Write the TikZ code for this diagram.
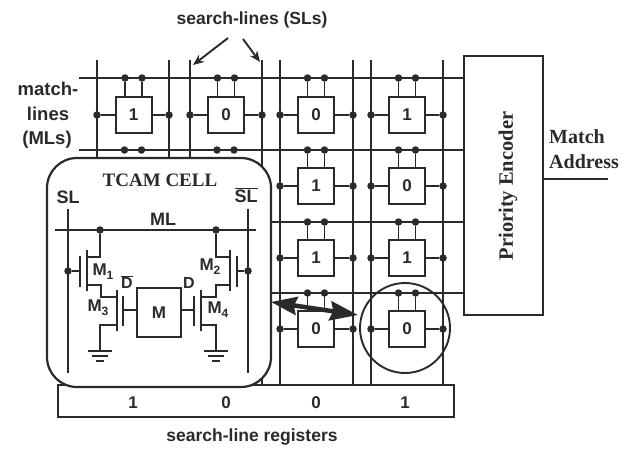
\documentclass[tikz,border=0pt]{standalone}
\usepackage{fontspec}
\setmainfont{Liberation Sans}
\newfontfamily\serifb{Liberation Serif}[BoldFont={Liberation Serif Bold}]
\usetikzlibrary{arrows.meta,calc}
\definecolor{ink}{HTML}{2A2A2A}
\newcommand{\Msub}[1]{M\raisebox{-4pt}{\fontsize{12}{12}\selectfont #1}}
\newcommand{\sansb}[1]{\fontsize{#1}{#1}\selectfont\bfseries}
\newcommand{\serb}[1]{\fontsize{#1}{#1}\selectfont\serifb\bfseries}
\tikzset{
  wire/.style={draw=ink,line width=1.9pt},
  bar/.style={draw=ink,line width=2.2pt},
  cellbox/.style={draw=ink,line width=2pt,fill=white,minimum width=36pt,minimum height=36pt,inner sep=0pt,font=\sansb{17},text=ink},
  junction/.style={circle,fill=ink,draw=none,minimum size=7.5pt,inner sep=0pt},
  lab/.style={text=ink,font=\sansb{17},inner sep=0pt,align=center},
  tlab/.style={text=ink,font=\sansb{18},inner sep=0pt},
  ser/.style={text=ink,inner sep=0pt,align=left},
  pointer/.style={draw=ink,line width=1.9pt,-{Stealth[length=11pt,width=9pt]}},
}
\begin{document}
\begin{tikzpicture}[x=1pt,y=-1pt]
\useasboundingbox[fill=white] (0,0) rectangle (636,448);
% match lines
\foreach \n/\y in {a/78,b/150,c/222,d/293}{
  \coordinate (ml\n L) at (79,\y);
  \coordinate (ml\n R) at (464,\y);
  \draw[bar] (ml\n L) -- (ml\n R);
}
% search lines
\foreach \n/\x in {1/97,2/169,3/190,4/262,5/280,6/353,7/371,8/443}{
  \coordinate (sl\n T) at (\x,60);
  \coordinate (sl\n B) at (\x,386);
  \draw[wire] (sl\n T) -- (sl\n B);
}
% cells
\foreach \nm/\cx/\cy/\v/\l/\r/\yt in {
  aa/133.5/115/1/97/169/78, ab/226/115/0/190/262/78, ac/316/115/0/280/353/78, ad/407/115/1/371/443/78,
  bc/316/186/1/280/353/150, bd/407/186/0/371/443/150,
  cc/316/258/1/280/353/222, cd/407/258/1/371/443/222,
  dc/316/329/0/280/353/293, dd/407/329/0/371/443/293}{
  \node[cellbox] (cell\nm) at (\cx,\cy) {\v};
  \node[junction] (\nm L) at (\l,\cy) {};
  \node[junction] (\nm R) at (\r,\cy) {};
  \node[junction] (\nm P) at (\cx-8.5,\yt) {};
  \node[junction] (\nm Q) at (\cx+8.5,\yt) {};
  \draw[wire] (\nm L) -- (cell\nm);
  \draw[wire] (\nm R) -- (cell\nm);
  \draw[wire] (\nm P) -- (\nm P |- cell\nm.north);
  \draw[wire] (\nm Q) -- (\nm Q |- cell\nm.north);
}
% dots of the covered row
\foreach \nm/\x in {ba/124.5,bb/141.5,bc/217,bd/234}{
  \node[junction] (\nm T) at (\x,150) {};
}
% priority encoder
\node[draw=ink,line width=2.4pt,fill=white,minimum width=79pt,minimum height=259pt,inner sep=0pt] (pe) at (503.5,185.5) {};
\node[ser,rotate=90,font=\serb{20.5}] (pet) at (508,186) {Priority Encoder};
\coordinate (mout) at (608,179);
\draw[line width=2.4pt,draw=ink] (pe.east |- mout) -- (mout);
\node[ser,anchor=west,font=\serb{20}] (ma1) at (549,137) {Match};
\node[ser,anchor=west,font=\serb{20}] (ma2) at (549,162) {Address};
% labels
\node[lab,font=\sansb{17.5}] (sltitle) at (252,20) {search-lines (SLs)};
\node[lab,font=\sansb{18.5}] (ml1) at (48,89) {match-};
\node[lab,font=\sansb{18.5}] (ml2) at (48,114) {lines};
\node[lab,font=\sansb{18.5}] (ml3) at (47,140) {(MLs)};
\coordinate (p1s) at (228,38);
\coordinate (p1e) at (193,65);
\coordinate (p2s) at (243,39);
\coordinate (p2e) at (260,62);
\draw[pointer] (p1s) -- (p1e);
\draw[pointer] (p2s) -- (p2e);
% register
\node[draw=ink,line width=2.2pt,fill=white,minimum width=396pt,minimum height=32pt,inner sep=0pt] (reg) at (256,401) {};
\foreach \nm/\x/\v in {r1/133/1,r2/226/0,r3/316/0,r4/405/1}{
  \node[lab,font=\sansb{17}] (\nm) at (\x,403) {\v};
}
\node[lab,font=\sansb{17.5}] (regt) at (252,437) {search-line registers};
% circle on the cell
\node[draw=ink,line width=1.9pt,circle,minimum size=90pt,inner sep=0pt] (ring) at (405,328) {};
% TCAM cell panel
\node[draw=ink,line width=2.2pt,fill=white,rounded corners=30pt,minimum width=224pt,minimum height=229pt,inner sep=0pt] (panel) at (159,272.5) {};
\node[ser,font=\serb{19}] (tc) at (160,180) {TCAM CELL};
\node[tlab] (sl) at (68,197) {SL};
\node[tlab] (slb) at (246,195) {$\overline{\hbox{SL}}$};
\node[tlab] (mlt) at (163,219) {ML};
% cell wires
\coordinate (slL1) at (68,209); \coordinate (slL2) at (68,373);
\coordinate (slR1) at (248,209); \coordinate (slR2) at (248,373);
\coordinate (mlA) at (55,230); \coordinate (mlB) at (256,230);
\draw[wire] (slL1) -- (slL2);
\draw[wire] (slR1) -- (slR2);
\draw[wire] (mlA) -- (mlB);
\node[junction] (dm1) at (100,230) {};
\node[junction] (dm2) at (216,230) {};
\node[junction] (gm1) at (68,271) {};
\node[junction] (gm2) at (248,271) {};
\node[draw=ink,line width=1.9pt,fill=white,minimum width=44pt,minimum height=49pt,inner sep=0pt,text=ink,font=\sansb{17}] (mem) at (159,312.5) {M};
% M1
\draw[wire] (dm1) -- (100,257) -- (87,257);
\draw[wire] (87,250) -- (87,291);
\draw[wire] (80,256) -- (80,287);
\draw[wire] (gm1) -- (80,271);
\draw[wire] (87,285) -- (101,285) -- (101,297) -- (117,297);
% M3
\draw[wire] (117,290) -- (117,331);
\draw[wire] (123,296) -- (123,326);
\draw[wire] (123,310) -- (mem.west |- 0,310);
\draw[wire] (117,325) -- (100,325) -- (100,350);
% M2
\draw[wire] (dm2) -- (216,257) -- (230,257);
\draw[wire] (230,250) -- (230,291);
\draw[wire] (237,256) -- (237,287);
\draw[wire] (gm2) -- (237,271);
\draw[wire] (230,285) -- (216,285) -- (216,297) -- (201,297);
% M4
\draw[wire] (201,290) -- (201,331);
\draw[wire] (194,296) -- (194,326);
\draw[wire] (194,310) -- (mem.east |- 0,310);
\draw[wire] (201,325) -- (216,325) -- (216,350);
% grounds
\foreach \x in {100,216}{
  \draw[wire] (\x-12,351) -- (\x+12,351);
  \draw[wire] (\x-8,356) -- (\x+8,356);
  \draw[wire] (\x-4,361) -- (\x+4,361);
}
\node[tlab,font=\sansb{17}] (lm1) at (103,272) {\Msub{1}};
\node[tlab,font=\sansb{17}] (lm2) at (210,267) {\Msub{2}};
\node[tlab,font=\sansb{17}] (lm3) at (98,308) {\Msub{3}};
\node[tlab,font=\sansb{17}] (lm4) at (218,310) {\Msub{4}};
\node[tlab,font=\sansb{16}] (ldb) at (127,282) {$\overline{\hbox{D}}$};
\node[tlab,font=\sansb{16}] (ld) at (189,283) {D};
% double arrow
\coordinate (arA) at (271,302);
\coordinate (arB) at (358,315);
\draw[draw=ink,line width=4.5pt,{Stealth[length=26pt,width=18pt,inset=3pt]}-{Stealth[length=28pt,width=19pt,inset=3pt]}] (arA) -- (arB);
\end{tikzpicture}
\end{document}
